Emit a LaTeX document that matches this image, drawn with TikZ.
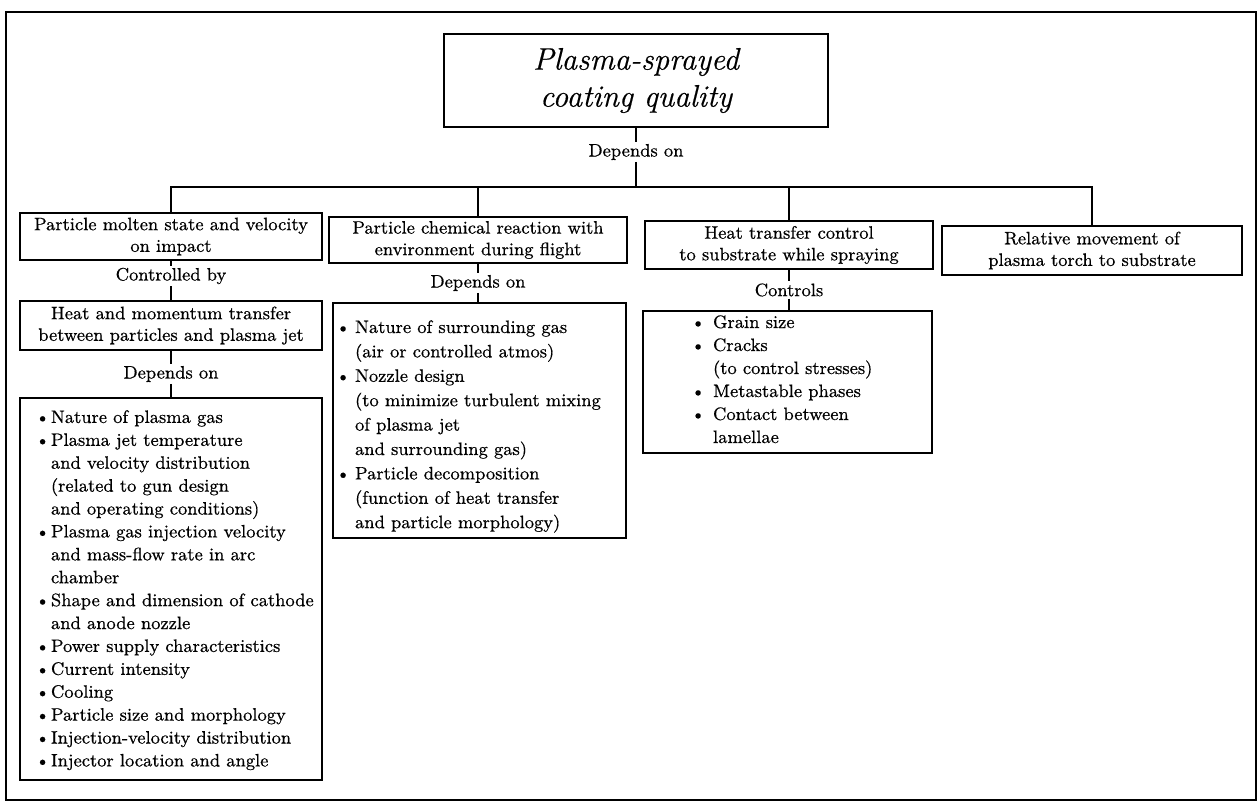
\documentclass[tikz,border=0pt]{standalone}
\usepackage{array}
\usepackage{fontspec}
\setmainfont{Latin Modern Roman}[FakeBold=0.5]
\newcommand\bodyfont{\fontsize{9.0}{10.8}\selectfont}
\newcommand\topfont{\fontsize{15.6}{18.5}\selectfont\itshape}
\begin{document}
\begin{tikzpicture}[x=0.5pt,y=-0.5pt,
  box/.style={draw, line width=0.9pt, inner sep=0pt, align=center, font=\bodyfont},
  lab/.style={inner sep=0.8pt, font=\bodyfont},
  conn/.style={line width=0.6pt},
  listtext/.style={anchor=north west, inner sep=0pt}]
\useasboundingbox (0,0) rectangle (1258,809);
\draw[line width=0.9pt] (6,12) rectangle (1256,800);

% top
\node[box, minimum width=192pt, minimum height=46.5pt, font=\topfont] (top) at (636,80.5) {Plasma-sprayed\\coating quality};
\node[lab] (dep0) at (636,152) {Depends on};
\coordinate (bar) at (636,187);

% second row
\node[box, minimum width=151pt, minimum height=23.5pt] (b1) at (171,236.5) {Particle molten state and velocity\\on impact};
\node[box, minimum width=149pt, minimum height=23pt] (b2) at (478,240) {Particle chemical reaction with\\environment during flight};
\node[box, minimum width=144pt, minimum height=24pt] (b3) at (789,245) {Heat transfer control\\to substrate while spraying};
\node[box, minimum width=150pt, minimum height=24.5pt] (b4) at (1092,250.5) {Relative movement of\\plasma torch to substrate};

% column 1
\node[lab] (ctl) at (171,276) {Controlled by};
\node[box, minimum width=151pt, minimum height=24.5pt] (heat) at (171,325.5) {Heat and momentum transfer\\between particles and plasma jet};
\node[lab] (dep1) at (171,374) {Depends on};
\node[box, minimum width=151pt, minimum height=191pt] (l1) at (171,589) {};
\node[listtext, font=\fontsize{9.0}{11.45}\selectfont] (l1t) at (35,406.5) {%
\begin{tabular}{@{}c@{\hspace{0.6pt}}l@{}}
\textbullet & Nature of plasma gas\\
\textbullet & Plasma jet temperature\\
 & and velocity distribution\\
 & (related to gun design\\
 & and operating conditions)\\
\textbullet & Plasma gas injection velocity\\
 & and mass-flow rate in arc\\
 & chamber\\
\textbullet & Shape and dimension of cathode\\
 & and anode nozzle\\
\textbullet & Power supply characteristics\\
\textbullet & Current intensity\\
\textbullet & Cooling\\
\textbullet & Particle size and morphology\\
\textbullet & Injection-velocity distribution\\
\textbullet & Injector location and angle
\end{tabular}};

% column 2
\node[lab] (dep2) at (478,283) {Depends on};
\node[box, minimum width=146.5pt, minimum height=117.5pt] (l2) at (479.5,420.5) {};
\node[listtext, font=\fontsize{9.0}{12.2}\selectfont] (l2t) at (335.5,315.5) {%
\begin{tabular}{@{}c@{\hspace{2.4pt}}l@{}}
\textbullet & Nature of surrounding gas\\
 & (air or controlled atmos)\\
\textbullet & Nozzle design\\
 & (to minimize turbulent mixing\\
 & of plasma jet\\
 & and surrounding gas)\\
\textbullet & Particle decomposition\\
 & (function of heat transfer\\
 & and particle morphology)
\end{tabular}};

% column 3
\node[lab] (ctls) at (789,290) {Controls};
\node[box, minimum width=144.5pt, minimum height=71pt] (l3) at (787.5,382) {};
\node[listtext, font=\fontsize{9.0}{11.5}\selectfont] (l3t) at (690.5,311.5) {%
\begin{tabular}{@{}c@{\hspace{3.9pt}}l@{}}
\textbullet & Grain size\\
\textbullet & Cracks\\
 & (to control stresses)\\
\textbullet & Metastable phases\\
\textbullet & Contact between\\
 & lamellae
\end{tabular}};

% connectors
\draw[conn] (top.south) -- (dep0.north);
\draw[conn] (dep0.south) -- (bar);
\draw[conn] (b1.north) -- (b1.north |- bar) -- (b4.north |- bar) -- (b4.north);
\draw[conn] (b2.north) -- (b2.north |- bar);
\draw[conn] (b3.north) -- (b3.north |- bar);
\draw[conn] (b1.south) -- (ctl.north);
\draw[conn] (ctl.south) -- (heat.north);
\draw[conn] (heat.south) -- (dep1.north);
\draw[conn] (dep1.south) -- (l1.north);
\draw[conn] (b2.south) -- (dep2.north);
\draw[conn] (dep2.south) -- (l2.north -| dep2.south);
\draw[conn] (b3.south) -- (ctls.north);
\draw[conn] (ctls.south) -- (l3.north -| ctls.south);
\end{tikzpicture}
\end{document}
